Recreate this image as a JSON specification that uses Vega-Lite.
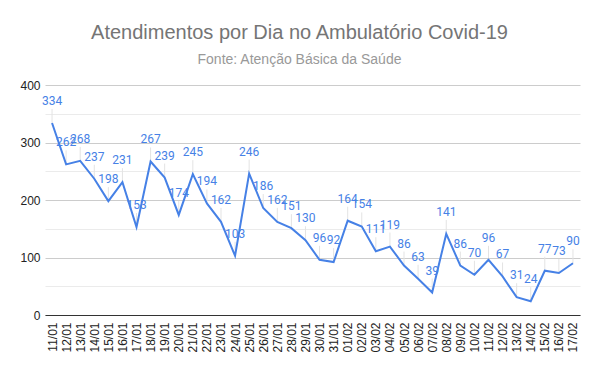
{
  "$schema": "https://vega.github.io/schema/vega-lite/v6.json",
  "width": 535,
  "height": 230,
  "autosize": {"type": "none"},
  "padding": {"left": 45, "top": 85, "right": 20, "bottom": 56},
  "background": "white",
  "config": {"view": {"stroke": null}},
  "title": {
    "text": "Atendimentos por Dia no Ambulatório Covid-19",
    "subtitle": "Fonte: Atenção Básica da Saúde",
    "anchor": "middle",
    "frame": "group",
    "dx": -13,
    "font": "Liberation Sans",
    "fontSize": 20,
    "fontWeight": "normal",
    "color": "#757575",
    "subtitleFont": "Liberation Sans",
    "subtitleFontSize": 14,
    "subtitleColor": "#999999",
    "subtitlePadding": 10,
    "offset": 12
  },
  "data": {
    "values": [
      {"dia": "11/01", "valor": 334}, {"dia": "12/01", "valor": 262}, {"dia": "13/01", "valor": 268},
      {"dia": "14/01", "valor": 237}, {"dia": "15/01", "valor": 198}, {"dia": "16/01", "valor": 231},
      {"dia": "17/01", "valor": 153}, {"dia": "18/01", "valor": 267}, {"dia": "19/01", "valor": 239},
      {"dia": "20/01", "valor": 174}, {"dia": "21/01", "valor": 245}, {"dia": "22/01", "valor": 194},
      {"dia": "23/01", "valor": 162}, {"dia": "24/01", "valor": 103}, {"dia": "25/01", "valor": 246},
      {"dia": "26/01", "valor": 186}, {"dia": "27/01", "valor": 162}, {"dia": "28/01", "valor": 151},
      {"dia": "29/01", "valor": 130}, {"dia": "30/01", "valor": 96}, {"dia": "31/01", "valor": 92},
      {"dia": "01/02", "valor": 164}, {"dia": "02/02", "valor": 154}, {"dia": "03/02", "valor": 111},
      {"dia": "04/02", "valor": 119}, {"dia": "05/02", "valor": 86}, {"dia": "06/02", "valor": 63},
      {"dia": "07/02", "valor": 39}, {"dia": "08/02", "valor": 141}, {"dia": "09/02", "valor": 86},
      {"dia": "10/02", "valor": 70}, {"dia": "11/02", "valor": 96}, {"dia": "12/02", "valor": 67},
      {"dia": "13/02", "valor": 31}, {"dia": "14/02", "valor": 24}, {"dia": "15/02", "valor": 77},
      {"dia": "16/02", "valor": 73}, {"dia": "17/02", "valor": 90}
    ]
  },
  "encoding": {
    "x": {
      "field": "dia",
      "type": "ordinal",
      "sort": null,
      "scale": {"type": "point", "padding": 0.5},
      "axis": {
        "title": null,
        "labelAngle": -90,
        "labelFont": "Liberation Sans",
        "labelFontSize": 12,
        "labelColor": "#222222",
        "labelPadding": 7,
        "ticks": false,
        "domain": true,
        "domainColor": "#333333",
        "domainWidth": 1,
        "grid": false,
        "zindex": 1
      }
    },
    "y": {
      "field": "valor",
      "type": "quantitative",
      "scale": {"domain": [0, 400], "nice": false},
      "axis": {
        "title": null,
        "values": [0, 50, 100, 150, 200, 250, 300, 350, 400],
        "labelExpr": "datum.value % 100 === 0 ? datum.label : ''",
        "labelFont": "Liberation Sans",
        "labelFontSize": 12,
        "labelColor": "#222222",
        "labelPadding": 5,
        "ticks": false,
        "domain": false,
        "gridColor": {"condition": {"test": "datum.value % 100 === 0", "value": "#cccccc"}, "value": "#ebebeb"},
        "gridWidth": 1
      }
    }
  },
  "layer": [
    {
      "mark": {"type": "rule", "y2Offset": -14, "color": "#e3e3e3", "strokeWidth": 1},
      "encoding": {"y2": {"field": "valor"}}
    },
    {
      "mark": {"type": "line", "color": "#4681e6", "strokeWidth": 2}
    },
    {
      "mark": {"type": "text", "dy": -18, "baseline": "alphabetic", "align": "center", "font": "Roboto", "fontSize": 12, "color": "#4681e6"},
      "encoding": {"text": {"field": "valor", "type": "quantitative"}}
    }
  ]
}
